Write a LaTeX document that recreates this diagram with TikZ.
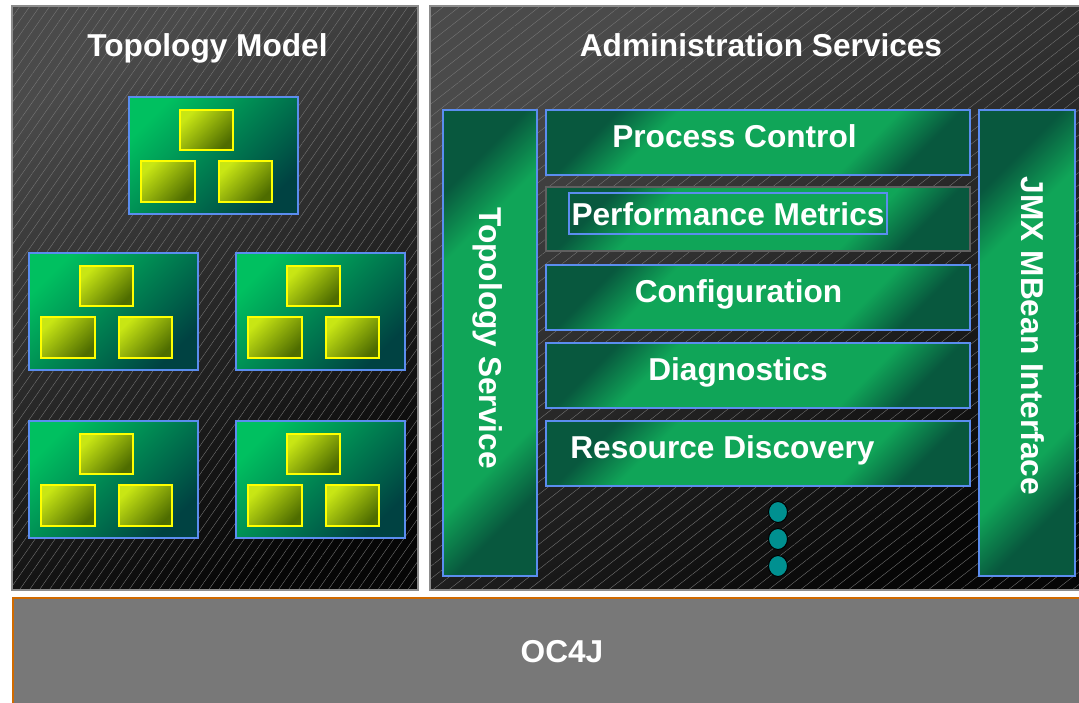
\documentclass[tikz,border=0pt]{standalone}
\usepackage{fontspec}
\setmainfont{Liberation Sans}
\usetikzlibrary{patterns.meta}
\definecolor{panelhi}{RGB}{74, 74, 74}
\definecolor{panello}{RGB}{6, 6, 6}
\definecolor{panelrim}{RGB}{140, 140, 140}
\definecolor{hatch}{RGB}{122, 122, 122}
\definecolor{cornflower}{RGB}{91, 141, 239}
\definecolor{leaflight}{RGB}{0, 192, 96}
\definecolor{leafdark}{RGB}{0, 66, 66}
\definecolor{rowmid}{RGB}{16, 165, 88}
\definecolor{rowdark}{RGB}{8, 88, 62}
\definecolor{limelight}{RGB}{200, 230, 20}
\definecolor{limedark}{RGB}{78, 108, 0}
\definecolor{canary}{RGB}{255, 255, 0}
\definecolor{tealdot}{RGB}{0, 144, 144}
\definecolor{slate}{RGB}{120, 120, 120}
\definecolor{rust}{RGB}{208, 106, 0}
\pgfdeclareverticalshading{bandshade}{100bp}{color(0bp)=(rowdark); color(25bp)=(rowdark); color(34bp)=(rowmid); color(66bp)=(rowmid); color(75bp)=(rowdark); color(100bp)=(rowdark)}

\begin{document}
\begin{tikzpicture}[x=0.025cm, y=-0.025cm,
    title/.style  = {text=white, font=\bfseries\fontsize{22.5}{27}\selectfont, inner sep=0pt},
    panel/.style  = {top color=panelhi, bottom color=panello, shading angle=30},
    rim/.style    = {draw=panelrim, line width=1pt},
    cluster/.style= {top color=leaflight, bottom color=leafdark, shading angle=45, draw=cornflower, line width=1.6pt},
    chip/.style   = {top color=limelight, bottom color=limedark, shading angle=45, draw=canary, line width=1.6pt},
    band/.style   = {shading=bandshade, shading angle=45, draw=cornflower, line width=1.6pt}]
            \useasboundingbox (0,0) rectangle (1079,703);
            % panels
            \shade[panel]                                                        (  12,   6) rectangle ( 418, 590);
            \fill[pattern={Lines[angle=55, distance=5.8pt, line width=0.25pt]}, pattern color=hatch] ( 12, 6) rectangle (418, 590);
            \draw[rim]                                                           (  12,   6) rectangle ( 418, 590);
            \shade[panel]                                                        ( 430,   6) rectangle (1082, 590);
            \fill[pattern={Lines[angle=38, distance=7pt, line width=0.25pt]}, pattern color=hatch] (430, 6) rectangle (1082, 590);
            \draw[rim]                                                           ( 430,   6) rectangle (1082, 590);
            \node[title] (topotitle)  at (207.5, 57) [anchor=base] {Topology Model};
            \node[title] (admintitle) at (761,   57) [anchor=base] {Administration Services};
            % topology model clusters
            \foreach \cx/\cy in {129/97, 29/253, 236/253, 29/421, 236/421}{
                \shadedraw[cluster] (\cx,\cy)       rectangle ++(169, 117);
                \shadedraw[chip]    (\cx+51,\cy+13) rectangle ++( 53,  40);
                \shadedraw[chip]    (\cx+12,\cy+64) rectangle ++( 54,  41);
                \shadedraw[chip]    (\cx+90,\cy+64) rectangle ++( 53,  41);
            }
            % administration services
            \shadedraw[band]                                                     ( 443, 110) rectangle ( 537, 576);
            \shadedraw[band]                                                     ( 979, 110) rectangle (1075, 576);
            \shadedraw[band]                                                     ( 546, 110) rectangle ( 970, 175);
            \shadedraw[band, draw=slate!80!black]                                ( 546, 187) rectangle ( 970, 251);
            \draw[cornflower, line width=1pt]                                    ( 569, 193) rectangle ( 887, 234);
            \shadedraw[band]                                                     ( 546, 265) rectangle ( 970, 330);
            \shadedraw[band]                                                     ( 546, 343) rectangle ( 970, 408);
            \shadedraw[band]                                                     ( 546, 421) rectangle ( 970, 486);
            \node[title, rotate=-90, anchor=base] (toposervice) at ( 479, 338) {Topology Service};
            \node[title, rotate=-90, anchor=base] (jmx)         at (1021, 336) {JMX MBean Interface};
            \node[title, anchor=base] (process)   at (734.5, 147) {Process Control};
            \node[title, anchor=base] (perf)      at (728,   225) {Performance Metrics};
            \node[title, anchor=base] (config)    at (738.5, 302) {Configuration};
            \node[title, anchor=base] (diag)      at (738,   380) {Diagnostics};
            \node[title, anchor=base] (discovery) at (722.5, 458) {Resource Discovery};
            \filldraw[color=black, fill=tealdot, line width=0.7pt]               ( 778, 512) ellipse (9.5 and 10.5);
            \filldraw[color=black, fill=tealdot, line width=0.7pt]               ( 778, 539) ellipse (9.5 and 10.5);
            \filldraw[color=black, fill=tealdot, line width=0.7pt]               ( 778, 566) ellipse (9.5 and 10.5);
            % oc4j
            \fill[slate]                                                         (  12, 597) rectangle (1082, 706);
            \draw[rust, line width=1.8pt]                                        (  13, 706) -- (13, 598) -- (1082, 598);
            \node[title, anchor=base] (oc4j) at (562, 662) {OC4J};
        \end{tikzpicture}
\end{document}
